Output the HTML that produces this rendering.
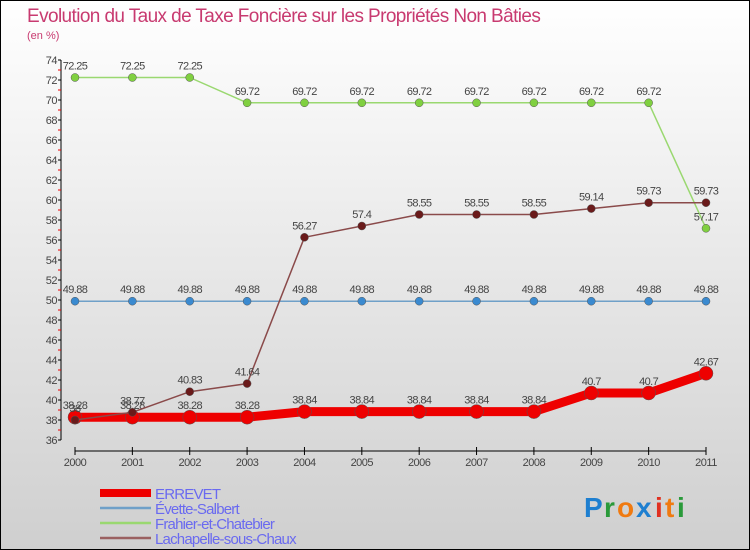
<!DOCTYPE html>
<html><head><meta charset="utf-8"><style>
body{margin:0;width:750px;height:550px;overflow:hidden}
svg{display:block;font-family:"Liberation Sans",sans-serif}
</style></head><body>
<svg id="c" width="750" height="550" xmlns="http://www.w3.org/2000/svg">
<defs><linearGradient id="bg" x1="0" y1="0" x2="0" y2="1"><stop offset="0" stop-color="#ffffff"/><stop offset="1" stop-color="#cfcfcf"/></linearGradient></defs>
<rect x="0.5" y="0.5" width="749" height="549" fill="url(#bg)" stroke="#000"/>
<text x="27" y="22" font-size="19" fill="#c83a70" letter-spacing="-0.6">Evolution du Taux de Taxe Foncière sur les Propriétés Non Bâties</text>
<text x="27" y="39" font-size="11" fill="#c83a70">(en %)</text>
<g id="axes"></g><g id="series"></g><g id="legend"></g>
<g font-size="28" font-weight="bold" letter-spacing="1">
<text x="584" y="517" fill="#1e7fd0">P</text><text x="604" y="517" fill="#2a9a3a">r</text><text x="617" y="517" fill="#f07a10">o</text><text x="636" y="517" fill="#1e7fd0">x</text><text x="655" y="517" fill="#e03020">i</text><text x="665" y="517" fill="#f07a10">t</text><text x="677" y="517" fill="#2a9a3a">i</text></g>
</svg>
<script>
const years=["2000","2001","2002","2003","2004","2005","2006","2007","2008","2009","2010","2011"];
const errevet=[38.28,38.28,38.28,38.28,38.84,38.84,38.84,38.84,38.84,40.7,40.7,42.67];
const evette=[49.88,49.88,49.88,49.88,49.88,49.88,49.88,49.88,49.88,49.88,49.88,49.88];
const frahier=[72.25,72.25,72.25,69.72,69.72,69.72,69.72,69.72,69.72,69.72,69.72,57.17];
const lachapelle=[38,38.77,40.83,41.64,56.27,57.4,58.55,58.55,58.55,59.14,59.73,59.73];
const yTicks=[36,38,40,42,44,46,48,50,52,54,56,58,60,62,64,66,68,70,72,74];
const NS="http://www.w3.org/2000/svg";
const X=i=>75+i*(706-75)/11;
const Y=v=>60+(74-v)*10;
function mk(p,t,a,txt){const e=document.createElementNS(NS,t);for(const k in a)e.setAttribute(k,a[k]);if(txt!==undefined)e.textContent=txt;p.appendChild(e);return e;}
const ax=document.getElementById('axes');
let yl=mk(ax,'line',{x1:61,y1:60,x2:61,y2:440,stroke:'#000'});


yTicks.forEach(v=>{
 mk(ax,'line',{x1:58,y1:Y(v),x2:61,y2:Y(v),stroke:'#000'});
 if(v<74)mk(ax,'line',{x1:58,y1:Y(v+1),x2:61,y2:Y(v+1),stroke:'#e00'});
 let t=mk(ax,'text',{x:57,y:Y(v)+4,'font-size':11,'text-anchor':'end',fill:'#444','letter-spacing':'-0.5'},String(v));
 
 
});
let xl=mk(ax,'line',{x1:75,y1:451,x2:706,y2:451,stroke:'#000'});


years.forEach((y,i)=>{
 mk(ax,'line',{x1:X(i),y1:447,x2:X(i),y2:455,stroke:'#000'});
 let t=mk(ax,'text',{x:X(i),y:466,'font-size':11,'text-anchor':'middle',fill:'#444','letter-spacing':'-0.5'},y);
 
 
});
const S=document.getElementById('series');
const defs=[
 {n:'evette',d:evette,c:'#6fa0c8',w:1.5,r:4,f:'#3a8ad0'},
 {n:'frahier',d:frahier,c:'#9ad870',w:1.5,r:4,f:'#80d040'},
 {n:'errevet',d:errevet,c:'#ee0000',w:9,r:7,f:'#ee0000'},
 {n:'lachapelle',d:lachapelle,c:'#8a4a4a',w:1.5,r:4,f:'#6a1a1a'}];
defs.forEach(s=>{
 const g=mk(S,'g',{});
 
 
 let p=mk(g,'polyline',{points:s.d.map((v,i)=>X(i)+','+Y(v)).join(' '),fill:'none',stroke:s.c,'stroke-width':s.w,'stroke-linejoin':'round'});
 
 
 s.d.forEach((v,i)=>{
  let c=mk(g,'circle',{cx:X(i),cy:Y(v),r:s.r,fill:s.f,stroke:'#555','stroke-width':0.5});
  
  
  let t=mk(g,'text',{x:X(i),y:Y(v)-8,'font-size':11,'text-anchor':'middle',fill:'#444','letter-spacing':'-0.6'},String(v));
  
  
 });
});
const L=document.getElementById('legend');
const leg=[["ERREVET","#ee0000",8],["Évette-Salbert","#6fa0c8",2.5],["Frahier-et-Chatebier","#9ad870",2.5],["Lachapelle-sous-Chaux","#9a6060",2.5]];
leg.forEach((e,i)=>{
 const y=493+i*15;
 const g=mk(L,'g',{});
 
 
 mk(g,'line',{x1:100,y1:y,x2:151,y2:y,stroke:e[1],'stroke-width':e[2]});
 mk(g,'text',{x:155,y:y+6,'font-size':15,fill:'#6a6af0','letter-spacing':'-0.8'},e[0]);
});
</script>
</body></html>
